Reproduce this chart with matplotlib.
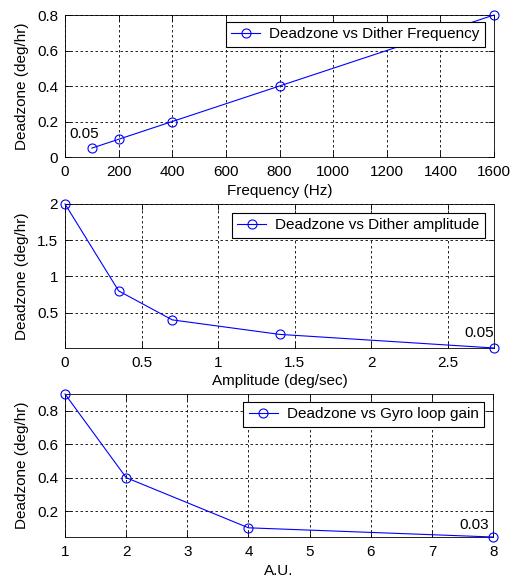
import matplotlib
matplotlib.use("Agg")
import matplotlib.pyplot as plt

plt.rcParams['font.family'] = ['Liberation Sans', 'DejaVu Sans']
plt.rcParams['font.size'] = 11

# data
freq = [100, 200, 400, 800, 1600]
dz_freq = [0.05, 0.1, 0.2, 0.4, 0.8]

amp = [0, 0.35, 0.7, 1.4, 2.8]
dz_amp = [2.0, 0.8, 0.4, 0.2, 0.012]

gain = [1, 2, 4, 8]
dz_gain = [0.9, 0.4, 0.1, 0.045]

fig = plt.figure(figsize=(5.14, 5.77), dpi=100)

panels = [
    # x, y, legend label, xlabel, xlim, ylim, xticks, xticklabels, yticks, yticklabels,
    # note, legend top, axes position
    (freq, dz_freq, 'Deadzone vs Dither Frequency', 'Frequency (Hz)',
     (0, 1600), (0, 0.8), list(range(0, 1601, 200)),
     [str(v) for v in range(0, 1601, 200)],
     [0, 0.2, 0.4, 0.6, 0.8], ['0', '0.2', '0.4', '0.6', '0.8'],
     ('0.05', 0, (-16, 10)), 0.951, [0.1265, 0.7279, 0.8346, 0.2461]),
    (amp, dz_amp, 'Deadzone vs Dither amplitude', 'Amplitude (deg/sec)',
     (0, 2.8), (dz_amp[-1], 2.0), [0, 0.5, 1, 1.5, 2, 2.5],
     ['0', '0.5', '1', '1.5', '2', '2.5'],
     [0.5, 1, 1.5, 2], ['0.5', '1', '1.5', '2'],
     ('0.05', -1, (-21, 11)), 0.9375, [0.1265, 0.3969, 0.8346, 0.2496]),
    (gain, dz_gain, 'Deadzone vs Gyro loop gain', 'A.U.',
     (1, 8), (dz_gain[-1], 0.9), list(range(1, 9)),
     [str(v) for v in range(1, 9)],
     [0.2, 0.4, 0.6, 0.8], ['0.2', '0.4', '0.6', '0.8'],
     ('0.03', -1, (-24, 9)), 0.944, [0.1265, 0.0693, 0.8329, 0.2478]),
]

for (x, y, lab, xlab, xlim, ylim, xt, xtl, yt, ytl, note, leg_top, pos) in panels:
    ax = fig.add_axes(pos)
    ax.plot(x, y, color='blue', linewidth=0.8, marker='o', markersize=6.5,
            markerfacecolor='none', markeredgecolor='blue', markeredgewidth=0.8,
            label=lab, clip_on=False, zorder=3)
    ax.set_xlim(*xlim)
    ax.set_ylim(*ylim)
    ax.set_xticks(xt)
    ax.set_xticklabels(xtl)
    ax.set_yticks(yt)
    ax.set_yticklabels(ytl)
    ax.grid(True, color='black', linestyle=(0, (3, 3)), linewidth=0.6)
    ax.tick_params(direction='in', top=True, right=True, length=4, width=0.6)
    ax.tick_params(axis='x', pad=6)
    ax.tick_params(axis='y', pad=5)
    for s in ax.spines.values():
        s.set_linewidth(0.6)
    ax.set_xlabel(xlab, labelpad=3)
    ax.set_ylabel('Deadzone (deg/hr)', labelpad=6)
    txt, idx, off = note
    ax.annotate(txt, xy=(x[idx], y[idx]), xytext=off, textcoords='offset points',
                ha='left', va='center')
    leg = ax.legend(loc='upper right', bbox_to_anchor=(0.979, leg_top),
                    fancybox=False, framealpha=1, edgecolor='black',
                    borderaxespad=0, handlelength=1.9, handletextpad=0.6,
                    borderpad=0.35)
    leg.get_frame().set_linewidth(0.8)

fig.savefig('out.png', dpi=100)
